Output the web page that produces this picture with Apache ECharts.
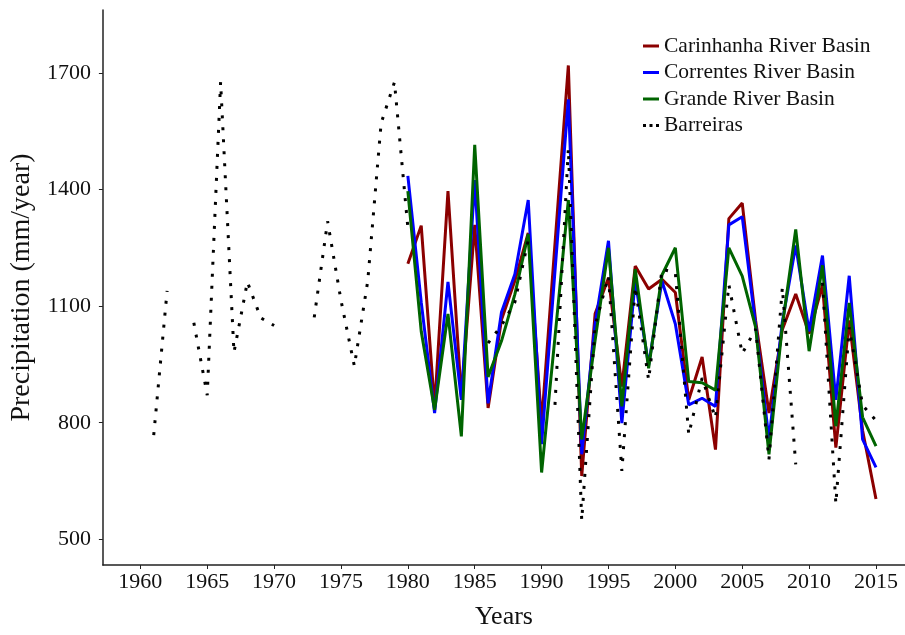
<!DOCTYPE html>
<html>
<head>
<meta charset="utf-8">
<script src="https://cdn.jsdelivr.net/npm/echarts@6/dist/echarts.min.js"></script>
<style>html,body{margin:0;padding:0;background:#fff;}#c{width:905px;height:635px;}</style>
</head>
<body>
<div id="c"></div>
<script>
// ---- data ----
const basinYears = [1980,1981,1982,1983,1984,1985,1986,1987,1988,1989,1990,1991,1992,1993,1994,1995,1996,1997,1998,1999,2000,2001,2002,2003,2004,2005,2006,2007,2008,2009,2010,2011,2012,2013,2014,2015];
const carinhanha = [1209,1307,840,1396,867,1309,838,1065,1165,1288,800,1260,1719,663,1080,1173,893,1203,1144,1169,1135,859,969,731,1325,1365,1063,825,1040,1131,1029,1154,736,1063,780,604];
const correntes  = [1435,1110,825,1162,859,1424,850,1084,1182,1373,745,1190,1632,719,1054,1268,799,1165,948,1165,1054,846,863,842,1309,1330,1050,757,1060,1256,1035,1230,859,1178,757,685];
const grande     = [1396,1035,833,1080,765,1515,918,1010,1130,1285,672,1020,1373,757,1012,1250,842,1195,940,1180,1250,906,903,884,1250,1177,1046,719,1050,1297,984,1205,791,1108,814,740];
const barreirasYears = [1961,1962,1963,1964,1965,1966,1967,1968,1969,1970,1971,1972,1973,1974,1975,1976,1977,1978,1979,1980,1981,1982,1983,1984,1985,1986,1987,1988,1989,1990,1991,1992,1993,1994,1995,1996,1997,1998,1999,2000,2001,2002,2003,2004,2005,2006,2007,2008,2009,2010,2011,2012,2013,2014,2015];
const barreiras = [768,1139,null,1057,871,1676,981,1162,1070,1050,null,null,1071,1318,1115,946,1164,1570,1676,1302,null,null,null,null,null,1005,1050,1110,1270,null,846,1505,549,1050,1177,676,1150,910,1195,1186,770,915,812,1155,978,1041,706,1148,693,null,1160,592,1045,845,806];
const seriesNames = ['Carinhanha River Basin','Correntes River Basin','Grande River Basin','Barreiras'];
const xTicks = [1960,1965,1970,1975,1980,1985,1990,1995,2000,2005,2010,2015];
const yTicks = [500,800,1100,1400,1700];

const pairs = (xs, ys) => xs.map((x, i) => [x, ys[i]]);
const font = 'Liberation Serif';
const txt = '#111111';
const dotsIcon = 'path://M0,0h3v3h-3zM6.5,0h3v3h-3zM13,0h3v3h-3z';

const chart = echarts.init(document.getElementById('c'), null, {renderer: 'canvas'});
chart.setOption({
  animation: false,
  backgroundColor: '#ffffff',
  grid: {left: 97, right: 0, top: 10, bottom: 65},
  legend: {
    orient: 'vertical', left: 638, top: 30,
    itemWidth: 16, itemHeight: 3, itemGap: 4.5,
    textStyle: {fontFamily: font, fontSize: 21.5, lineHeight: 22, color: txt},
    data: [
      {name: seriesNames[0], icon: 'rect'},
      {name: seriesNames[1], icon: 'rect'},
      {name: seriesNames[2], icon: 'rect'},
      {name: seriesNames[3], icon: dotsIcon}
    ]
  },
  xAxis: {
    type: 'value', min: 1957.2, max: 2017.17,
    name: 'Years', nameLocation: 'middle', nameGap: 39,
    nameTextStyle: {fontFamily: font, fontSize: 26, color: txt},
    splitLine: {show: false},
    axisLine: {show: true, lineStyle: {color: '#222', width: 1.5}},
    axisTick: {show: true, length: 4, lineStyle: {color: '#222'}, customValues: xTicks},
    axisLabel: {fontFamily: font, fontSize: 22, color: txt, margin: 6, customValues: xTicks,
                formatter: v => String(v)}
  },
  yAxis: {
    type: 'value', min: 434.1, max: 1861.6,
    name: 'Precipitation (mm/year)', nameLocation: 'middle', nameGap: 57,
    nameTextStyle: {fontFamily: font, fontSize: 28, color: txt},
    splitLine: {show: false},
    axisLine: {show: true, lineStyle: {color: '#222', width: 1.5}},
    axisTick: {show: true, length: 4, lineStyle: {color: '#222'}, customValues: yTicks},
    axisLabel: {fontFamily: font, fontSize: 22, color: txt, margin: 12, customValues: yTicks,
                formatter: v => String(v)}
  },
  series: [
    {name: seriesNames[0], type: 'line', data: pairs(basinYears, carinhanha), showSymbol: false, symbol: 'none',
     lineStyle: {color: '#8b0000', width: 3}, itemStyle: {color: '#8b0000'}},
    {name: seriesNames[1], type: 'line', data: pairs(basinYears, correntes), showSymbol: false, symbol: 'none',
     lineStyle: {color: '#0000ff', width: 3}, itemStyle: {color: '#0000ff'}},
    {name: seriesNames[2], type: 'line', data: pairs(basinYears, grande), showSymbol: false, symbol: 'none',
     lineStyle: {color: '#006400', width: 3}, itemStyle: {color: '#006400'}},
    {name: seriesNames[3], type: 'line', data: pairs(barreirasYears, barreiras), showSymbol: false, symbol: 'none',
     connectNulls: false,
     lineStyle: {color: '#000000', width: 3, type: [3, 9], cap: 'butt'}, itemStyle: {color: '#000000'}}
  ]
});
</script>
</body>
</html>
